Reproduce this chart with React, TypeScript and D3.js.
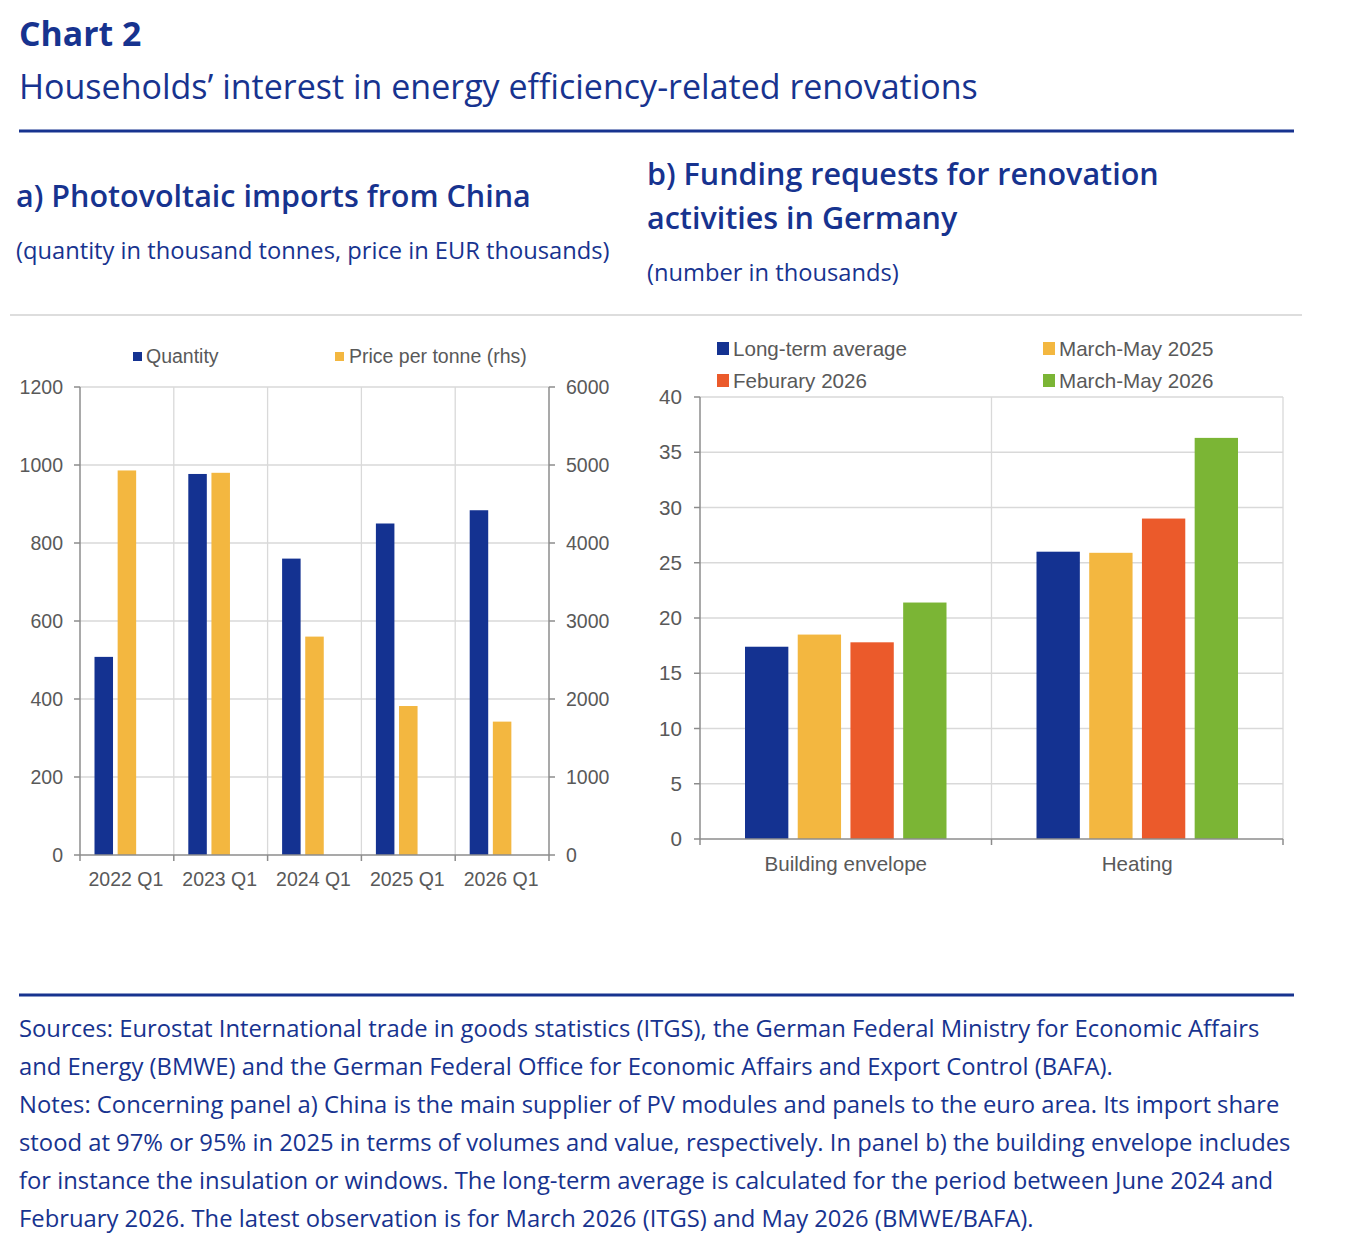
import React from "react";
import * as d3 from "d3";

// ---------- Data ----------
const periodsA = ["2022 Q1", "2023 Q1", "2024 Q1", "2025 Q1", "2026 Q1"];
const quantity = [508, 977, 760, 850, 884];
const pricePerTonne = [4930, 4900, 2800, 1910, 1710];
const ticksALeft = [0, 200, 400, 600, 800, 1000, 1200];
const ticksARight = [0, 1000, 2000, 3000, 4000, 5000, 6000];

const categoriesB = ["Building envelope", "Heating"];
const seriesB = ["Long-term average", "March-May 2025", "Feburary 2026", "March-May 2026"];
const longTermAverage = [17.4, 26.0];
const marchMay2025 = [18.5, 25.9];
const february2026 = [17.8, 29.0];
const marchMay2026 = [21.4, 36.3];
const ticksB = [0, 5, 10, 15, 20, 25, 30, 35, 40];

const footnotes = [
  "Sources: Eurostat International trade in goods statistics (ITGS), the German Federal Ministry for Economic Affairs",
  "and Energy (BMWE) and the German Federal Office for Economic Affairs and Export Control (BAFA).",
  "Notes: Concerning panel a) China is the main supplier of PV modules and panels to the euro area. Its import share",
  "stood at 97% or 95% in 2025 in terms of volumes and value, respectively. In panel b) the building envelope includes",
  "for instance the insulation or windows. The long-term average is calculated for the period between June 2024 and",
  "February 2026. The latest observation is for March 2026 (ITGS) and May 2026 (BMWE/BAFA).",
];

// ---------- Styles ----------
const ECB = "#17338f";
const C_BLUE = "#143291";
const C_YELLOW = "#f3b740";
const C_ORANGE = "#eb5a2b";
const C_GREEN = "#7bb535";
const GRID = "#d9d9d9";
const AXIS = "#8c8c8c";
const LABEL = "#595959";
const HFONT = "'Open Sans', sans-serif";
const CFONT = "'Liberation Sans', Arial, sans-serif";
const FA = 19.5;
const FB = 20.6;

function PanelA() {
  const left = 80, right = 549, top = 387, bottom = 855;
  const x = d3.scaleBand<string>().domain(periodsA).range([left, right]);
  const sub = d3.scaleBand<number>().domain([0, 1, 2]).range([14.5, x.bandwidth() - 14.5]).paddingInner(0.2);
  const yL = d3.scaleLinear().domain([0, 1200]).range([bottom, top]);
  const yR = d3.scaleLinear().domain([0, 6000]).range([bottom, top]);
  const bounds = periodsA.map((p) => x(p)!).concat([right]);
  return (
    <g>
      {ticksALeft.filter((t) => t > 0).map((t) => (
        <line key={"gh" + t} x1={left} x2={right} y1={yL(t)} y2={yL(t)} stroke={GRID} strokeWidth={1.3} />
      ))}
      {bounds.slice(1, -1).map((bx, i) => (
        <line key={"gv" + i} x1={bx} x2={bx} y1={top} y2={bottom} stroke={GRID} strokeWidth={1.3} />
      ))}
      {periodsA.map((p, i) => (
        <g key={p}>
          <rect x={x(p)! + sub(0)!} width={sub.bandwidth()} y={yL(quantity[i])} height={bottom - yL(quantity[i])} fill={C_BLUE} />
          <rect x={x(p)! + sub(1)!} width={sub.bandwidth()} y={yR(pricePerTonne[i])} height={bottom - yR(pricePerTonne[i])} fill={C_YELLOW} />
        </g>
      ))}
      <line x1={left} x2={left} y1={top} y2={bottom} stroke={AXIS} strokeWidth={1.5} />
      <line x1={right} x2={right} y1={top} y2={bottom} stroke={AXIS} strokeWidth={1.5} />
      <line x1={left} x2={right} y1={bottom} y2={bottom} stroke={AXIS} strokeWidth={1.5} />
      {ticksALeft.map((t) => (
        <g key={"tl" + t}>
          <line x1={left - 6} x2={left} y1={yL(t)} y2={yL(t)} stroke={AXIS} strokeWidth={1.5} />
          <text x={63} y={yL(t) + 6.8} textAnchor="end" fontSize={FA} fill={LABEL} fontFamily={CFONT}>{t}</text>
        </g>
      ))}
      {ticksARight.map((t) => (
        <g key={"tr" + t}>
          <line x1={right} x2={right + 6} y1={yR(t)} y2={yR(t)} stroke={AXIS} strokeWidth={1.5} />
          <text x={566} y={yR(t) + 6.8} textAnchor="start" fontSize={FA} fill={LABEL} fontFamily={CFONT}>{t}</text>
        </g>
      ))}
      {bounds.map((bx, i) => (
        <line key={"tx" + i} x1={bx} x2={bx} y1={bottom} y2={bottom + 6} stroke={AXIS} strokeWidth={1.5} />
      ))}
      {periodsA.map((p) => (
        <text key={"xl" + p} x={x(p)! + x.bandwidth() / 2 - 1} y={886} textAnchor="middle" fontSize={FA} fill={LABEL} fontFamily={CFONT}>{p}</text>
      ))}
      <rect x={133} y={352} width={9} height={9} fill={C_BLUE} />
      <text x={146} y={363} fontSize={FA} fill={LABEL} fontFamily={CFONT}>Quantity</text>
      <rect x={335} y={352} width={9} height={9} fill={C_YELLOW} />
      <text x={349} y={363} fontSize={FA} fill={LABEL} fontFamily={CFONT}>Price per tonne (rhs)</text>
    </g>
  );
}

function PanelB() {
  const left = 700, right = 1283, top = 397, bottom = 839;
  const x = d3.scaleBand<string>().domain(categoriesB).range([left, right]);
  const sub = d3.scaleBand<string>().domain(seriesB).range([45, x.bandwidth() - 45]).paddingInner(0.178);
  const y = d3.scaleLinear().domain([0, 40]).range([bottom, top]);
  const values = [longTermAverage, marchMay2025, february2026, marchMay2026];
  const colors = [C_BLUE, C_YELLOW, C_ORANGE, C_GREEN];
  const bounds = categoriesB.map((c) => x(c)!).concat([right]);
  const legendPos = [
    { x: 717, y: 342 },
    { x: 1043, y: 342 },
    { x: 717, y: 374 },
    { x: 1043, y: 374 },
  ];
  return (
    <g>
      {ticksB.filter((t) => t > 0).map((t) => (
        <line key={"gh" + t} x1={left} x2={right} y1={y(t)} y2={y(t)} stroke={GRID} strokeWidth={1.3} />
      ))}
      {bounds.slice(1).map((bx, i) => (
        <line key={"gv" + i} x1={bx} x2={bx} y1={top} y2={bottom} stroke={GRID} strokeWidth={1.3} />
      ))}
      {categoriesB.map((c, ci) => (
        <g key={c}>
          {seriesB.map((s, si) => (
            <rect key={s} x={x(c)! + sub(s)!} width={sub.bandwidth()} y={y(values[si][ci])} height={bottom - y(values[si][ci])} fill={colors[si]} />
          ))}
        </g>
      ))}
      <line x1={left} x2={left} y1={top} y2={bottom} stroke={AXIS} strokeWidth={1.5} />
      <line x1={left} x2={right} y1={bottom} y2={bottom} stroke={AXIS} strokeWidth={1.5} />
      {ticksB.map((t) => (
        <g key={"t" + t}>
          <line x1={left - 6} x2={left} y1={y(t)} y2={y(t)} stroke={AXIS} strokeWidth={1.5} />
          <text x={682} y={y(t) + 7.2} textAnchor="end" fontSize={FB} fill={LABEL} fontFamily={CFONT}>{t}</text>
        </g>
      ))}
      {bounds.map((bx, i) => (
        <line key={"tx" + i} x1={bx} x2={bx} y1={bottom} y2={bottom + 6} stroke={AXIS} strokeWidth={1.5} />
      ))}
      {categoriesB.map((c) => (
        <text key={"xl" + c} x={x(c)! + x.bandwidth() / 2} y={871} textAnchor="middle" fontSize={FB} fill={LABEL} fontFamily={CFONT}>{c}</text>
      ))}
      {seriesB.map((s, i) => (
        <g key={"lg" + s}>
          <rect x={legendPos[i].x} y={legendPos[i].y} width={12} height={13} fill={colors[i]} />
          <text x={legendPos[i].x + 16} y={legendPos[i].y + 14} fontSize={FB} fill={LABEL} fontFamily={CFONT}>{s}</text>
        </g>
      ))}
    </g>
  );
}

export default function App() {
  return (
    <svg width={1348} height={1256} style={{ position: "absolute", left: 0, top: 0, background: "#fff" }}>
      <rect width={1348} height={1256} fill="#fff" />
      <text x={19} y={46} fontFamily={HFONT} fontWeight={700} fontSize={33.8} fill={ECB}>Chart 2</text>
      <text x={19} y={99} fontFamily={HFONT} fontSize={34} fill={ECB}>Households’ interest in energy efficiency-related renovations</text>
      <line x1={19} x2={1294} y1={131} y2={131} stroke={ECB} strokeWidth={3} />

      <text x={16} y={207} fontFamily={HFONT} fontWeight={600} fontSize={30.5} fill={ECB}>a) Photovoltaic imports from China</text>
      <text x={16} y={259} fontFamily={HFONT} fontSize={23.7} fill={ECB}>(quantity in thousand tonnes, price in EUR thousands)</text>
      <text x={647} y={185} fontFamily={HFONT} fontWeight={600} fontSize={30.5} fill={ECB}>b) Funding requests for renovation</text>
      <text x={647} y={229} fontFamily={HFONT} fontWeight={600} fontSize={30.5} fill={ECB}>activities in Germany</text>
      <text x={647} y={281} fontFamily={HFONT} fontSize={23.7} fill={ECB}>(number in thousands)</text>
      <line x1={10} x2={1302} y1={315} y2={315} stroke="#dddddd" strokeWidth={2} />

      <PanelA />
      <PanelB />

      <line x1={19} x2={1294} y1={995} y2={995} stroke={ECB} strokeWidth={3} />
      {footnotes.map((l, i) => (
        <text key={i} x={19} y={1037 + i * 38} fontFamily={HFONT} fontSize={23.8} fill={ECB}>{l}</text>
      ))}
    </svg>
  );
}
